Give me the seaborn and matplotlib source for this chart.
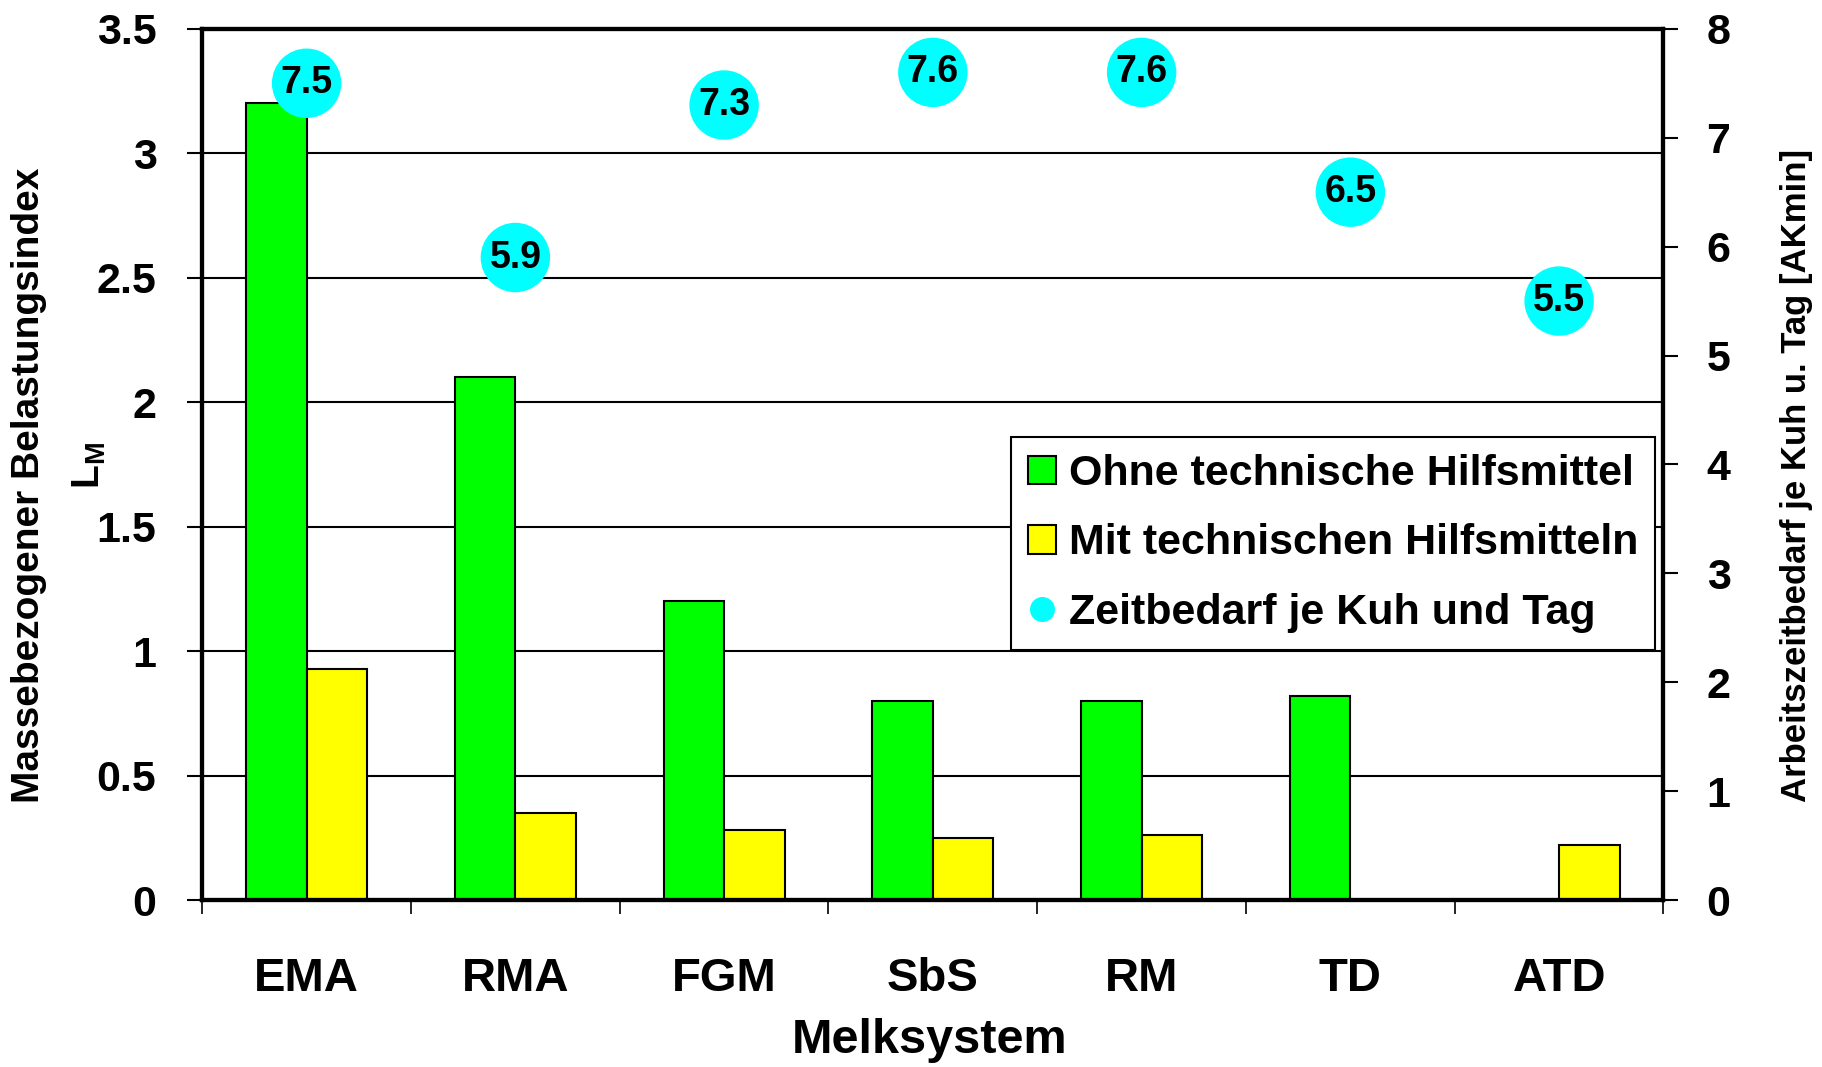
import numpy as np
import pandas as pd
import matplotlib
matplotlib.use("Agg")
import matplotlib.pyplot as plt
from matplotlib.patches import Patch
from matplotlib.lines import Line2D
import seaborn as sns

# data
systeme = ["EMA", "RMA", "FGM", "SbS", "RM", "TD", "ATD"]
ohne = [3.2, 2.1, 1.2, 0.8, 0.8, 0.82, np.nan]
mit = [0.93, 0.35, 0.28, 0.25, 0.26, np.nan, 0.22]
zeit = [7.5, 5.9, 7.3, 7.6, 7.6, 6.5, 5.5]

serien = ["Ohne technische Hilfsmittel", "Mit technischen Hilfsmitteln"]
zeit_label = "Zeitbedarf je Kuh und Tag"
left_ticks = ["0", "0.5", "1", "1.5", "2", "2.5", "3", "3.5"]

sns.set_theme(style="white")
plt.rcParams["font.family"] = ["Liberation Sans", "DejaVu Sans"]
plt.rcParams["font.weight"] = "bold"
plt.rcParams["mathtext.fontset"] = "custom"
plt.rcParams["mathtext.bf"] = "Liberation Sans:bold"
plt.rcParams["mathtext.rm"] = "Liberation Sans:bold"
for key in ["text.color", "axes.labelcolor", "xtick.color", "ytick.color"]:
    plt.rcParams[key] = "black"

df = pd.DataFrame({
    "Melksystem": systeme * 2,
    "Wert": ohne + mit,
    "Serie": [serien[0]] * 7 + [serien[1]] * 7,
})

fig = plt.figure(figsize=(18.22, 10.67), dpi=100)
ax = fig.add_axes([0.111, 0.1565, 0.802, 0.8165])

sns.barplot(data=df, x="Melksystem", y="Wert", hue="Serie", hue_order=serien,
            palette=["#00ff00", "#ffff00"], width=0.58, edgecolor="black",
            linewidth=1.5, saturation=1, legend=False, ax=ax)

ax.set_xlim(-0.5, 6.5)
ax.set_ylim(0, 3.5)
ax.set_yticks(np.arange(0, 3.51, 0.5))
ax.set_yticklabels(left_ticks)
ax.yaxis.grid(True, color="black", linewidth=1.5)
ax.set_axisbelow(True)

# ticks between the groups, labels centred below
ax.set_xticks(np.arange(-0.5, 7, 1))
ax.set_xticklabels([])
ax.set_xticks(np.arange(7), minor=True)
ax.set_xticklabels(systeme, minor=True, fontsize=34, fontweight="bold")
ax.tick_params(axis="x", which="major", direction="out", length=10, width=1.2,
               color="black", bottom=True)
ax.tick_params(axis="x", which="minor", length=0, pad=41)
ax.tick_params(axis="y", direction="out", length=11, width=1.5, color="black",
               left=True, pad=22, labelsize=31)
ax.set_xlabel("")
ax.set_ylabel("")
for s in ax.spines.values():
    s.set_color("black")
    s.set_linewidth(3)

ax2 = ax.twinx()
sns.scatterplot(x=systeme, y=zeit, ax=ax2, s=2500, color="#00ffff",
                edgecolor="none", legend=False, zorder=4)
for i, v in enumerate(zeit):
    ax2.text(i, v, f"{v:.1f}", ha="center", va="center", fontsize=27,
             fontweight="bold", zorder=5)
ax2.set_ylim(0, 8)
ax2.set_yticks(range(0, 9))
ax2.tick_params(axis="y", direction="out", length=11, width=1.5, color="black",
                right=True, pad=20, labelsize=31)
for s in ax2.spines.values():
    s.set_color("black")
    s.set_linewidth(3)
ax2.set_ylabel("")

handles = [
    Patch(facecolor="#00ff00", edgecolor="black", linewidth=1.5, label=serien[0]),
    Patch(facecolor="#ffff00", edgecolor="black", linewidth=1.5, label=serien[1]),
    Line2D([], [], marker="o", linestyle="none", markersize=18,
           markerfacecolor="#00ffff", markeredgecolor="none", label=zeit_label),
]
leg = ax2.legend(handles=handles, loc="upper right",
                 bbox_to_anchor=(0.9945, 0.5316), fontsize=31, frameon=True,
                 fancybox=False, edgecolor="black", framealpha=1,
                 handlelength=0.65, handleheight=0.65, handletextpad=0.3,
                 labelspacing=0.68, borderpad=0.4, borderaxespad=0)
leg.get_frame().set_linewidth(1.5)
leg.set_zorder(10)

fig.text(0.016, 0.545, "Massebezogener Belastungsindex", rotation=90,
         ha="center", va="center", fontsize=28, fontweight="bold")
fig.text(0.049, 0.564, r"$\mathbf{L_M}$", rotation=90, ha="center",
         va="center", fontsize=28)
fig.text(0.986, 0.554, "Arbeitszeitbedarf je Kuh u. Tag [AKmin]", rotation=90,
         ha="center", va="center", fontsize=25, fontweight="bold")
fig.text(0.510, 0.025, "Melksystem", ha="center", va="center", fontsize=35,
         fontweight="bold")

plt.savefig("out.png", dpi=100)
